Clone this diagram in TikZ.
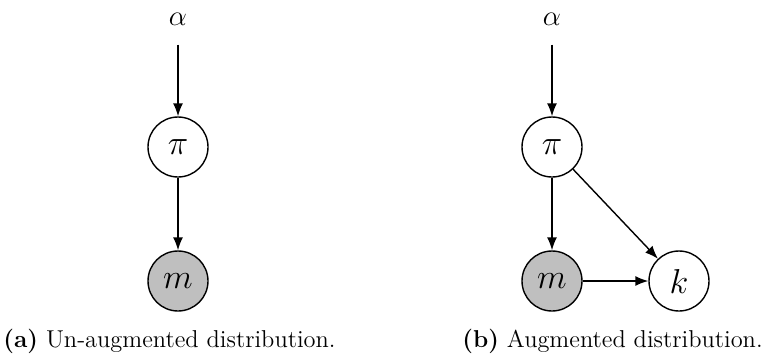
\documentclass[tikz,border=0pt]{standalone}
\usetikzlibrary{arrows.meta}
\begin{document}
\begin{tikzpicture}[x=0.5pt,y=-0.5pt,
  var/.style={circle,draw,line width=0.7pt,minimum size=30pt,inner sep=0pt,font=\fontsize{16}{19}\selectfont},
  obs/.style={var,fill=black!25},
  lbl/.style={inner sep=0pt,font=\fontsize{15.5}{18}\selectfont},
  arr/.style={-{Latex[length=6.5pt,width=5pt]},line width=0.7pt},
  captext/.style={anchor=base west,inner sep=0pt,font=\fontsize{12.2}{14}\selectfont}]
\useasboundingbox (0,0) rectangle (770,354);
% left
\node[lbl] (aL) at (178,19) {$\alpha$};
\node[var] (pL) at (178,147) {$\pi$};
\node[obs] (mL) at (178,281) {$m$};
\draw[arr,shorten <=9.5pt] (aL) -- (pL);
\draw[arr] (pL) -- (mL);
% right
\node[lbl] (aR) at (552,19) {$\alpha$};
\node[var] (pR) at (552,147) {$\pi$};
\node[obs] (mR) at (552,281) {$m$};
\node[var] (k) at (679,281) {$k$};
\draw[arr,shorten <=9.5pt] (aR) -- (pR);
\draw[arr] (pR) -- (mR);
\draw[arr] (pR) -- (k);
\draw[arr] (mR) -- (k);
% captions
\node[captext] (ca) at (3,347) {\textbf{(a)} Un-augmented distribution.};
\node[captext] (cb) at (462,347) {\textbf{(b)} Augmented distribution.};
\end{tikzpicture}
\end{document}
